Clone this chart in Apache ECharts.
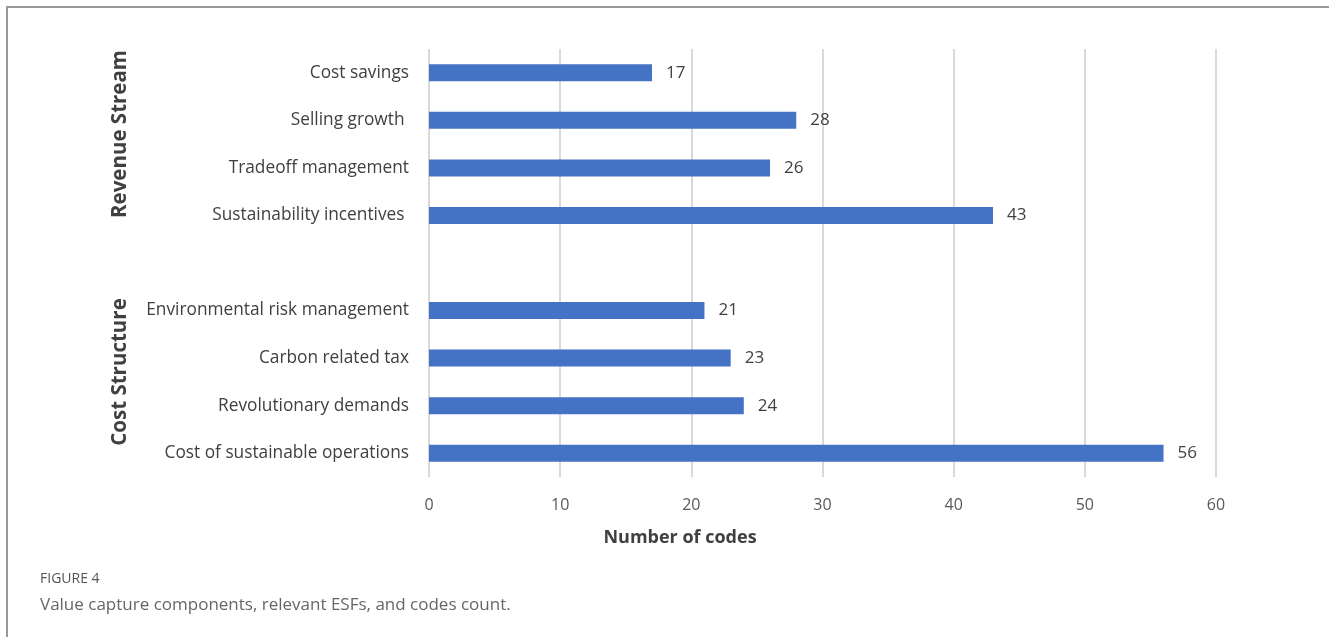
<!DOCTYPE html>
<html>
<head>
<meta charset="utf-8">
<script src="https://cdn.jsdelivr.net/npm/echarts@6/dist/echarts.min.js"></script>
<style>
  html, body { margin: 0; padding: 0; background: #fff; }
  #main { width: 1329px; height: 637px; }
</style>
</head>
<body>
<div id="main"></div>
<script>
// categories top to bottom, blank slot separates the two groups
var categories = [
  'Cost savings', 'Selling growth ', 'Tradeoff management', 'Sustainability incentives ',
  '',
  'Environmental risk management', 'Carbon related tax', 'Revolutionary demands', 'Cost of sustainable operations'
];
var codeCounts = [17, 28, 26, 43, '-', 21, 23, 24, 56];
var groupNames = ['Revenue Stream', 'Cost Structure'];
var xTicks = [0, 10, 20, 30, 40, 50, 60];

var myChart = echarts.init(document.getElementById('main'));

myChart.setOption({
  animation: false,
  textStyle: { fontFamily: 'Open Sans' },
  grid: { left: 429, right: 113, top: 49, height: 428, containLabel: false },
  xAxis: {
    type: 'value',
    min: xTicks[0],
    max: xTicks[xTicks.length - 1],
    interval: 10,
    axisLine: { show: false },
    axisTick: { show: false },
    axisLabel: { fontSize: 16, color: '#595959', margin: 20 },
    splitLine: { show: true, lineStyle: { color: '#d9d9d9', width: 2 } }
  },
  yAxis: {
    type: 'category',
    inverse: true,
    data: categories,
    axisLine: { show: false },
    axisTick: { show: false },
    axisLabel: { fontSize: 17.3, color: '#404040', margin: 20, padding: [3, 0, 0, 0] }
  },
  graphic: [
    {
      type: 'rect',
      shape: { x: 7, y: 7, width: 1400, height: 700 },
      style: { fill: 'none', stroke: '#999', lineWidth: 2 },
      silent: true
    },
    {
      type: 'text', x: 120, y: 134, rotation: Math.PI / 2,
      style: { text: groupNames[0], fontFamily: 'Open Sans', fontWeight: 'bold', fontSize: 20.5, fill: '#404040', align: 'center', verticalAlign: 'middle' }
    },
    {
      type: 'text', x: 120, y: 372, rotation: Math.PI / 2,
      style: { text: groupNames[1], fontFamily: 'Open Sans', fontWeight: 'bold', fontSize: 20.5, fill: '#404040', align: 'center', verticalAlign: 'middle' }
    },
    {
      type: 'text', x: 680, y: 538,
      style: { text: 'Number of codes', fontFamily: 'Open Sans', fontWeight: 'bold', fontSize: 18, fill: '#404040', align: 'center', verticalAlign: 'middle' }
    },
    {
      type: 'text', x: 40, y: 579,
      style: { text: 'FIGURE 4', fontFamily: 'Open Sans', fontSize: 14, fill: '#555', verticalAlign: 'middle' }
    },
    {
      type: 'text', x: 40, y: 605,
      style: { text: 'Value capture components, relevant ESFs, and codes count.', fontFamily: 'Open Sans', fontSize: 17, fill: '#666', verticalAlign: 'middle' }
    }
  ],
  series: [{
    type: 'bar',
    data: codeCounts,
    barWidth: 17,
    itemStyle: { color: '#4472c4' },
    label: { show: true, position: 'right', distance: 14, fontSize: 17, color: '#404040', padding: [4, 0, 0, 0] }
  }]
});
</script>
</body>
</html>
